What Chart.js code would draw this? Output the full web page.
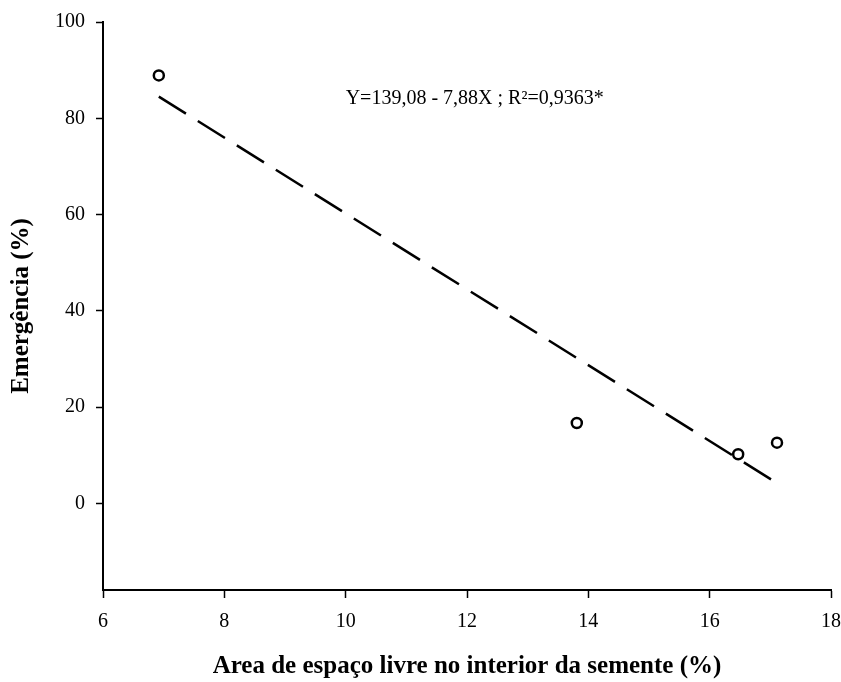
<!DOCTYPE html>
<html>
<head>
<meta charset="utf-8">
<script src="https://cdn.jsdelivr.net/npm/chart.js@4"></script>
<style>
    html, body { margin: 0; padding: 0; background: #fff; }
    #wrap { width: 841px; height: 682px; }
</style>
</head>
<body>
<div id="wrap"><canvas id="myChart"></canvas></div>
<script>
// observed values
const areaX = [6.92, 13.81, 16.47, 17.11];
const emergY = [88.9, 16.7, 10.2, 12.6];
// fitted line end points
const fitX = [6.92, 17.11];
const fitY = [84.5, 4.2];
const yTicks = [0, 20, 40, 60, 80, 100];
const eqText = "Y=139,08 - 7,88X ; R²=0,9363*";
const eqPos = { x: 10, y: 84 };

const serif = "'Liberation Serif', 'Times New Roman', serif";

const eqLabel = {
    id: "eqLabel",
    afterDatasetsDraw(chart) {
        const c = chart.ctx;
        c.save();
        c.font = "20px " + serif;
        c.fillStyle = "#000";
        c.textAlign = "left";
        c.textBaseline = "middle";
        c.fillText(eqText, chart.scales.x.getPixelForValue(eqPos.x), chart.scales.y.getPixelForValue(eqPos.y));
        c.restore();
    }
};

const ctx = document.getElementById("myChart").getContext("2d");
const myChart = new Chart(ctx, {
    type: "scatter",
    data: {
        datasets: [
            {
                label: "Observado",
                data: areaX.map((x, i) => ({ x: x, y: emergY[i] })),
                pointStyle: "circle",
                pointRadius: 5,
                pointBorderWidth: 2.5,
                pointBorderColor: "#000",
                pointBackgroundColor: "#fff",
                order: 0,
            },
            {
                label: "Ajuste",
                type: "line",
                data: fitX.map((x, i) => ({ x: x, y: fitY[i] })),
                borderColor: "#000",
                borderWidth: 2.5,
                borderDash: [32, 14],
                pointRadius: 0,
                fill: false,
                order: 1,
            },
        ],
    },
    options: {
        responsive: true,
        maintainAspectRatio: false,
        animation: false,
        layout: { padding: { left: 0, right: 10, top: 22, bottom: 0 } },
        plugins: {
            legend: { display: false },
            tooltip: { enabled: false },
        },
        scales: {
            x: {
                type: "linear",
                min: 6,
                max: 18,
                ticks: {
                    stepSize: 2,
                    color: "#000",
                    padding: 12,
                    font: { family: serif, size: 20 },
                },
                grid: { drawOnChartArea: false, tickLength: 8, tickColor: "#000", tickWidth: 1.5 },
                border: { color: "#000", width: 2 },
                title: {
                    display: true,
                    text: "Area de espaço livre no interior da semente (%)",
                    color: "#000",
                    font: { family: serif, size: 25, weight: "bold" },
                    padding: { top: 0, bottom: 0 },
                },
                afterFit(scale) {
                    scale.height = 92;
                    scale.paddingLeft = 0;
                    scale.paddingRight = 0;
                },
            },
            y: {
                type: "linear",
                min: -18,
                max: 100,
                afterBuildTicks(scale) {
                    scale.ticks = yTicks.map(v => ({ value: v }));
                },
                ticks: {
                    color: "#000",
                    padding: 11,
                    font: { family: serif, size: 20 },
                },
                grid: { drawOnChartArea: false, tickLength: 7, tickColor: "#000", tickWidth: 1.5 },
                border: { color: "#000", width: 2 },
                title: {
                    display: true,
                    text: "Emergência (%)",
                    color: "#000",
                    font: { family: serif, size: 25, weight: "bold" },
                    padding: { top: 7, bottom: 0 },
                },
                afterFit(scale) {
                    scale.width = 103;
                    scale.paddingTop = 0;
                    scale.paddingBottom = 0;
                },
            },
        },
    },
    plugins: [eqLabel],
});
</script>
</body>
</html>
